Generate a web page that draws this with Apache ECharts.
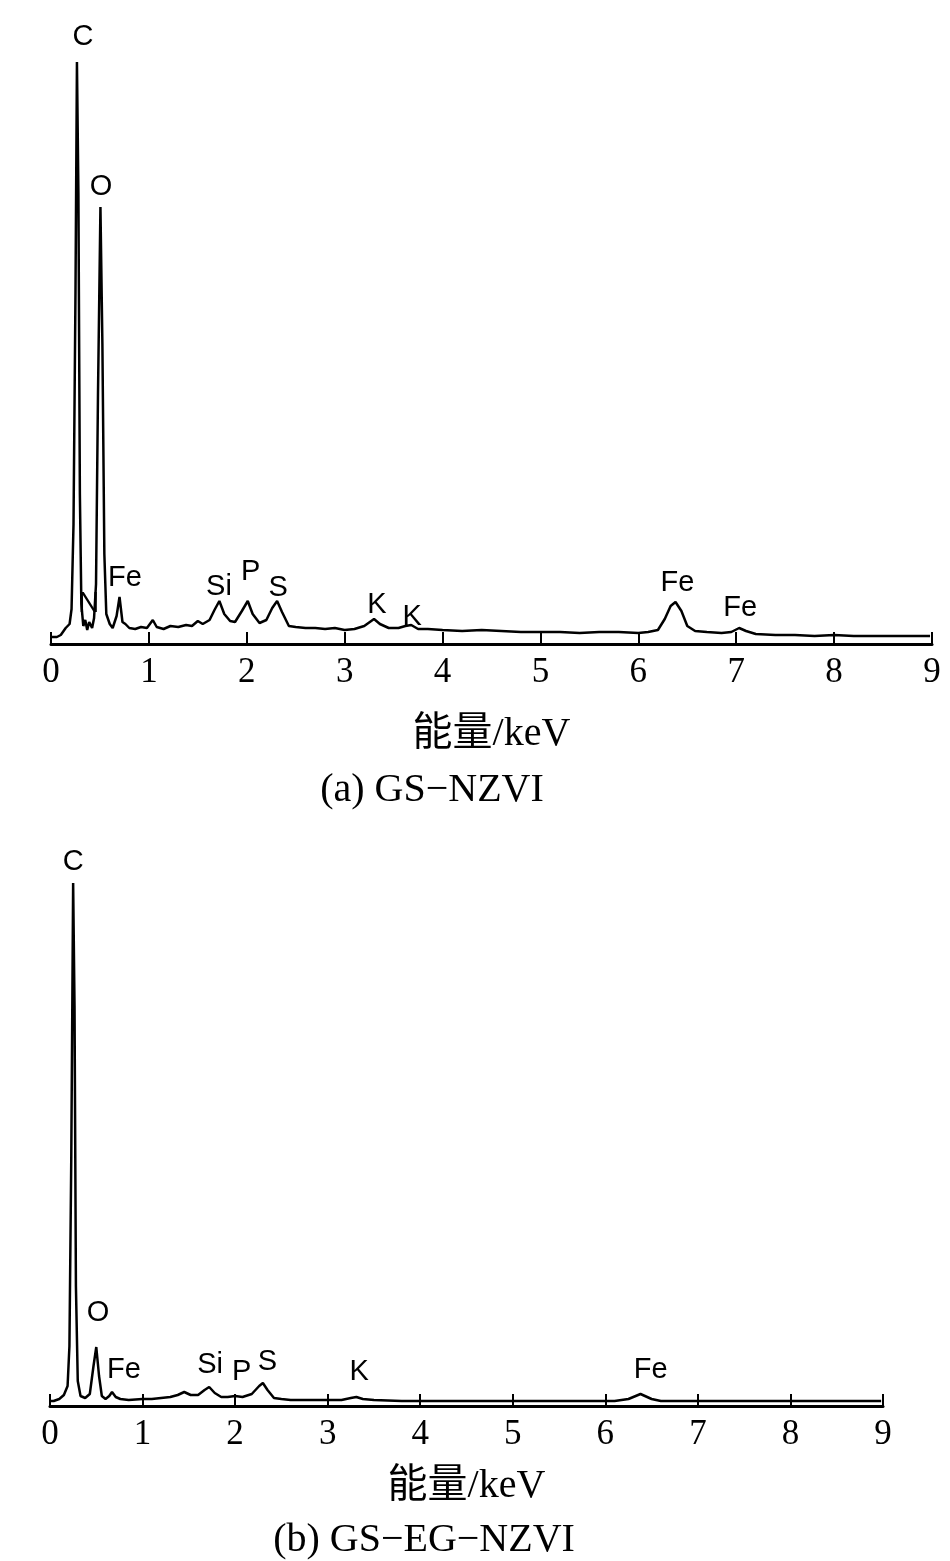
<!DOCTYPE html>
<html>
<head>
<meta charset="utf-8">
<script src="https://cdn.jsdelivr.net/npm/echarts@6/dist/echarts.min.js"></script>
<style>
html,body{margin:0;padding:0;background:#fff;}
#c{width:950px;height:1561px;}
</style>
</head>
<body>
<div id="c"></div>
<script>
// ---- Data (keV, relative counts) ----
const xTicks = [0,1,2,3,4,5,6,7,8,9];
const spectrumA = [
[0.0,7],[0.06,7],[0.10,9],[0.15,16],[0.19,20],[0.21,35],[0.23,120],[0.25,350],[0.265,582],[0.28,450],[0.295,150],[0.31,40],
[0.33,18],[0.35,24],[0.37,14],[0.39,22],[0.42,16],[0.44,26],[0.46,60],[0.48,250],[0.505,437],[0.525,300],[0.545,90],
[0.565,30],[0.60,20],[0.63,16],[0.67,28],[0.70,47],[0.73,22],[0.76,20],[0.80,16],[0.86,15],[0.92,17],[0.98,16],
[1.04,24],[1.08,17],[1.15,15],[1.22,18],[1.30,17],[1.38,19],[1.44,18],[1.50,23],[1.55,20],[1.62,24],[1.67,34],
[1.72,43],[1.77,30],[1.83,23],[1.88,22],[1.95,33],[2.01,43],[2.06,30],[2.13,21],[2.20,24],[2.26,36],[2.31,43],
[2.36,32],[2.43,18],[2.50,17],[2.60,16],[2.70,16],[2.80,15],[2.90,16],[3.00,14],[3.10,15],[3.20,18],[3.30,25],
[3.36,20],[3.45,16],[3.55,16],[3.62,18],[3.68,19],[3.75,15],[3.85,15],[4.00,14],[4.2,13],[4.4,14],[4.6,13],
[4.8,12],[5.0,12],[5.2,12],[5.4,11],[5.6,12],[5.8,12],[6.0,11],[6.1,12],[6.2,14],[6.27,25],[6.33,38],[6.38,42],
[6.44,33],[6.50,18],[6.58,13],[6.7,12],[6.85,11],[6.95,12],[7.03,16],[7.10,13],[7.2,10],[7.4,9],[7.6,9],
[7.8,8],[8.0,9],[8.2,8],[8.5,8],[8.8,8],[8.98,8]
];
const spectrumB = [
[0.0,5],[0.04,5],[0.10,7],[0.15,11],[0.19,20],[0.21,60],[0.23,250],[0.25,523],[0.265,400],[0.28,120],[0.30,25],[0.33,10],
[0.38,8],[0.43,12],[0.47,40],[0.50,59],[0.53,30],[0.56,10],[0.60,7],[0.64,10],[0.67,14],[0.71,9],[0.76,7],
[0.85,6],[1.0,7],[1.1,7],[1.2,8],[1.3,9],[1.38,11],[1.45,14],[1.52,11],[1.60,11],[1.67,16],[1.72,19],[1.78,13],
[1.85,9],[1.92,9],[2.0,10],[2.08,9],[2.18,12],[2.26,20],[2.30,23],[2.35,16],[2.42,8],[2.5,7],[2.6,6],[2.8,6],
[3.0,6],[3.15,6],[3.25,8],[3.31,9],[3.38,7],[3.5,6],[3.8,5],[4.0,5],[4.3,5],[4.6,5],[5.0,5],[5.4,5],[5.8,5],
[6.1,5],[6.25,7],[6.38,12],[6.5,7],[6.6,5],[7.0,5],[7.5,5],[8.0,5],[8.5,5],[8.98,5]
];
// element labels: [keV, counts, element]
const labelsA = [
[0.327,607,'C'],[0.51,457,'O'],[0.385,40,'N'],[0.756,66,'Fe'],[1.716,57,'Si'],[2.04,72,'P'],[2.32,56,'S'],
[3.33,39,'K'],[3.69,27,'K'],[6.40,61,'Fe'],[7.04,36,'Fe']
];
const labelsB = [
[0.25,544,'C'],[0.52,93,'O'],[0.80,36,'Fe'],[1.73,41,'Si'],[2.07,34,'P'],[2.35,44,'S'],[3.34,34,'K'],[6.49,36,'Fe']
];
const axisTitle = '能量/keV';
const captionA = '(a) GS\u2212NZVI';
const captionB = '(b) GS\u2212EG\u2212NZVI';

const serif = "'Liberation Serif','Times New Roman','Noto Sans CJK SC',serif";
const sans = "'Liberation Sans',Arial,sans-serif";

function xAxisCfg(gridIndex, gap){
  return {
    type:'value', gridIndex:gridIndex, min:0, max:9, interval:1,
    name: axisTitle, nameLocation:'middle', nameGap: gap,
    nameTextStyle:{fontFamily:serif, fontSize:40, color:'#000'},
    axisLine:{show:true, onZero:false, lineStyle:{color:'#000', width:3}},
    axisTick:{show:true, inside:true, length:12, lineStyle:{color:'#000', width:2}},
    axisLabel:{show:true, fontFamily:serif, fontSize:35, color:'#000', margin:11,
      formatter:function(v){ return xTicks.indexOf(v)>=0 ? String(v) : ''; }},
    splitLine:{show:false}
  };
}
function yAxisCfg(gridIndex, max){
  return {type:'value', gridIndex:gridIndex, min:0, max:max, show:false, splitLine:{show:false}};
}
function lineSeries(idx, data){
  return {type:'line', xAxisIndex:idx, yAxisIndex:idx, data:data, showSymbol:false, symbol:'none',
    lineStyle:{color:'#000', width:2.5}, silent:true, animation:false, z:2};
}
function labelSeries(idx, data){
  return {type:'scatter', xAxisIndex:idx, yAxisIndex:idx, symbolSize:0, itemStyle:{color:'#000'}, z:10,
    data:data.map(d=>({value:[d[0],d[1]], name:d[2]})),
    label:{show:true, position:[0,0], align:'center', verticalAlign:'middle', formatter:'{b}',
      fontFamily:sans, fontSize:29, color:'#000', opacity:1, textBorderWidth:0},
    labelLayout:{hideOverlap:false},
    emphasis:{disabled:true}, silent:true, animation:false};
}

const chart = echarts.init(document.getElementById('c'), null, {renderer:'canvas'});
chart.setOption({
  backgroundColor:'#fff',
  animation:false,
  grid:[
    {left:51, right:18, top:20, bottom:917},
    {left:50, right:67, top:840, bottom:155}
  ],
  xAxis:[xAxisCfg(0, 70), xAxisCfg(1, 60)],
  yAxis:[yAxisCfg(0, 624), yAxisCfg(1, 566)],
  series:[lineSeries(0, spectrumA), labelSeries(0, labelsA), lineSeries(1, spectrumB), labelSeries(1, labelsB)],
  graphic:[
    {type:'text', style:{text:captionA, font:"40px "+serif, fill:'#000', textAlign:'center', textVerticalAlign:'middle', x:432, y:790}},
    {type:'text', style:{text:captionB, font:"40px "+serif, fill:'#000', textAlign:'center', textVerticalAlign:'middle', x:424, y:1540}}
  ]
});
</script>
</body>
</html>
